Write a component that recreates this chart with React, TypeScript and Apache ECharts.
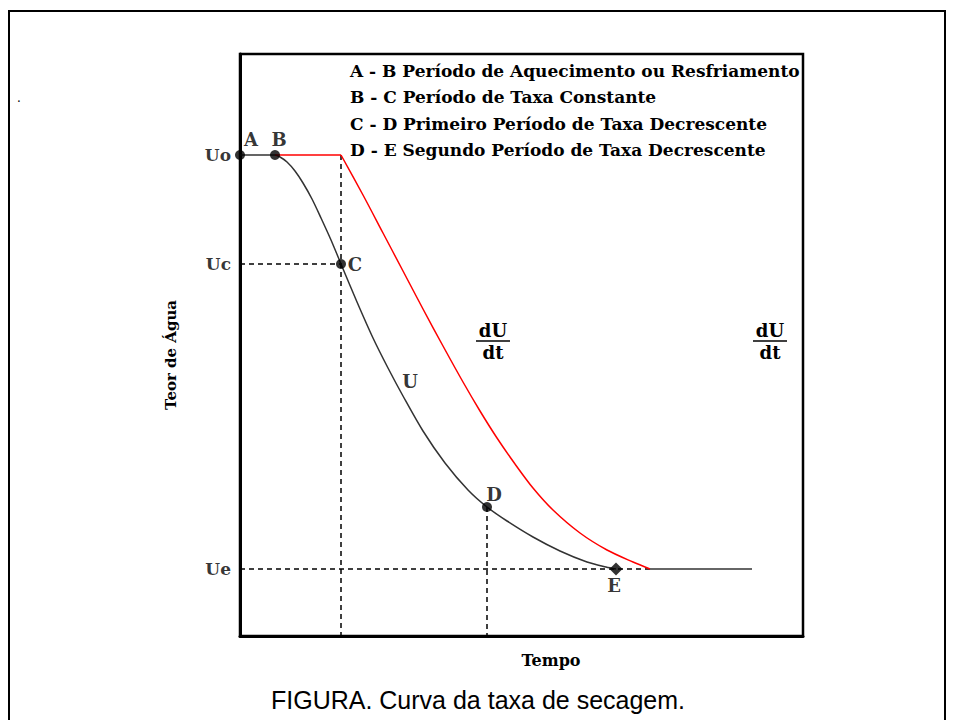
import React, { useEffect, useRef } from "react";
import * as echarts from "echarts";

// Coordinates (x: tempo units, y: teor de água units)
const curveU: number[][] = [
  [0, 481], [35, 481], [40, 479], [47, 474], [55, 465], [63, 453], [72, 437], [81, 418],
  [91, 396], [101, 372], [117, 334], [133, 298], [148, 268], [163, 240], [183, 205],
  [205, 173], [228, 146], [247, 129], [267, 115], [293, 99], [320, 85], [347, 74],
  [366, 69], [376, 67],
];
const rateFlat: number[][] = [[35, 481], [101, 481]];
const rateCurve: number[][] = [
  [101, 481], [123, 441], [143, 403], [163, 365], [183, 327], [203, 290], [223, 254],
  [240, 225], [257, 198], [275, 172], [293, 148], [313, 126], [340, 103], [367, 86],
  [393, 74], [410, 67],
];
const equilibrium: number[][] = [[410, 67], [512, 67]];
const dashUcH: number[][] = [[0, 372], [101, 372]];
const dashUeH: number[][] = [[0, 67], [410, 67]];
const dashCV: number[][] = [[101, 481], [101, 0]];
const dashDV: number[][] = [[247, 129], [247, 0]];
const pointNames = ["A", "B", "C", "D", "E"];
const pointValues: number[][] = [[0, 481], [35, 481], [101, 372], [247, 129], [376, 67]];
const pointLabelOffsets: number[][] = [[11, -16], [4, -16], [14, 0], [7, -13], [-2, 16]];
const levelNames = ["Uo", "Uc", "Ue"];
const levelValues = [481, 372, 67];
const legendLines = [
  "A - B Período de Aquecimento ou Resfriamento",
  "B - C Período de Taxa Constante",
  "C - D Primeiro Período de Taxa Decrescente",
  "D - E Segundo Período de Taxa Decrescente",
];
const xTitle = "Tempo";
const yTitle = "Teor de Água";
const caption = "FIGURA. Curva da taxa de secagem.";

const SERIF = "'DejaVu Serif', serif";

export default function App() {
  const ref = useRef<HTMLDivElement>(null);
  useEffect(() => {
    if (!ref.current) return;
    const chart = echarts.init(ref.current, undefined, { renderer: "svg" });
    const dashStyle = { color: "#000", width: 1.5, type: [5, 4] as any };
    const dashSeries = (data: number[][]) => ({
      type: "line",
      data,
      symbol: "none",
      silent: true,
      clip: false,
      lineStyle: dashStyle,
      z: 1,
    });
    const textStyleLabel = { fontFamily: SERIF, fontWeight: "bold", fontSize: 18, color: "#000" };
    chart.setOption({
      animation: false,
      backgroundColor: "#fff",
      grid: {
        left: 240, top: 54, width: 563, height: 582,
        show: true, borderColor: "#000", borderWidth: 2.5,
      },
      xAxis: {
        type: "value", min: 0, max: 563,
        axisLine: { show: true, onZero: false, lineStyle: { color: "#000", width: 3 } },
        axisTick: { show: false }, axisLabel: { show: false }, splitLine: { show: false },
      },
      yAxis: {
        type: "value", min: 0, max: 582,
        axisLine: { show: true, onZero: false, lineStyle: { color: "#000", width: 3 } },
        axisTick: { show: false }, axisLabel: { show: false }, splitLine: { show: false },
      },
      series: [
        dashSeries(dashUcH),
        dashSeries(dashUeH),
        dashSeries(dashCV),
        dashSeries(dashDV),
        {
          type: "line", name: "U", data: curveU, symbol: "none", smooth: 0.3,
          lineStyle: { color: "#333", width: 1.5 }, z: 2,
        },
        {
          type: "line", data: rateFlat, symbol: "none",
          lineStyle: { color: "#ff0000", width: 1.5 }, z: 2,
        },
        {
          type: "line", name: "dU/dt", data: rateCurve, symbol: "none", smooth: 0.3,
          lineStyle: { color: "#ff0000", width: 1.5 }, z: 2,
        },
        {
          type: "line", data: equilibrium, symbol: "none",
          lineStyle: { color: "#333", width: 1.5 }, z: 2,
        },
        {
          type: "scatter", clip: false, z: 5,
          data: pointValues.map((v, i) => ({
            value: v,
            name: pointNames[i],
            symbol: pointNames[i] === "E" ? "diamond" : "circle",
            symbolSize: pointNames[i] === "E" ? 13 : 10,
            label: { offset: pointLabelOffsets[i] },
          })),
          itemStyle: { color: "#000" },
          label: {
            show: true, position: "inside", formatter: "{b}",
            align: "center", verticalAlign: "middle", ...textStyleLabel,
          },
        },
        {
          type: "scatter", clip: false, z: 5, symbolSize: 0,
          data: levelValues.map((v, i) => ({ value: [0, v], name: levelNames[i] })),
          label: { show: true, position: "left", distance: 9, formatter: "{b}", ...textStyleLabel, fontSize: 17 },
        },
        {
          type: "scatter", clip: false, z: 5, symbolSize: 0,
          data: [{ value: [170, 255], name: "U" }],
          label: { show: true, position: "inside", formatter: "{b}", ...textStyleLabel },
        },
      ],
      graphic: [
        {
          type: "rect", shape: { x: 9, y: 11, width: 936, height: 720 },
          style: { fill: "none", stroke: "#000", lineWidth: 2 }, z: -1,
        },
        { type: "text", x: 19, y: 104, style: { text: ".", font: `12px ${SERIF}`, fill: "#000", textAlign: "center", textVerticalAlign: "bottom" } },
        ...legendLines.map((t, i) => ({
          type: "text", x: 350, y: 71 + i * 26.3,
          style: { text: t, font: `bold 17px ${SERIF}`, fill: "#000", textVerticalAlign: "middle" },
        })),
        {
          type: "text", x: 551, y: 660,
          style: { text: xTitle, font: `bold 16px ${SERIF}`, fill: "#000", textAlign: "center", textVerticalAlign: "middle" },
        },
        {
          type: "text", x: 171, y: 355, rotation: Math.PI / 2,
          style: { text: yTitle, font: `bold 15px ${SERIF}`, fill: "#000", textAlign: "center", textVerticalAlign: "middle" },
        },
        ...[493, 770].map((cx) => ({
          type: "group",
          children: [
            { type: "text", x: cx, y: 339, style: { text: "dU", font: `bold 18px ${SERIF}`, fill: "#000", textAlign: "center", textVerticalAlign: "bottom" } },
            { type: "line", shape: { x1: cx - 17, y1: 341, x2: cx + 17, y2: 341 }, style: { stroke: "#000", lineWidth: 1.5 } },
            { type: "text", x: cx, y: 343, style: { text: "dt", font: `bold 18px ${SERIF}`, fill: "#000", textAlign: "center", textVerticalAlign: "top" } },
          ],
        })),
        {
          type: "text", x: 478, y: 700,
          style: { text: caption, font: `25px 'Liberation Sans', Arial, sans-serif`, fill: "#000", textAlign: "center", textVerticalAlign: "middle" },
        },
      ],
    });
    return () => chart.dispose();
  }, []);
  return (
    <div
      ref={ref}
      style={{ position: "fixed", left: 0, top: 0, width: 954, height: 720, background: "#fff" }}
    />
  );
}
